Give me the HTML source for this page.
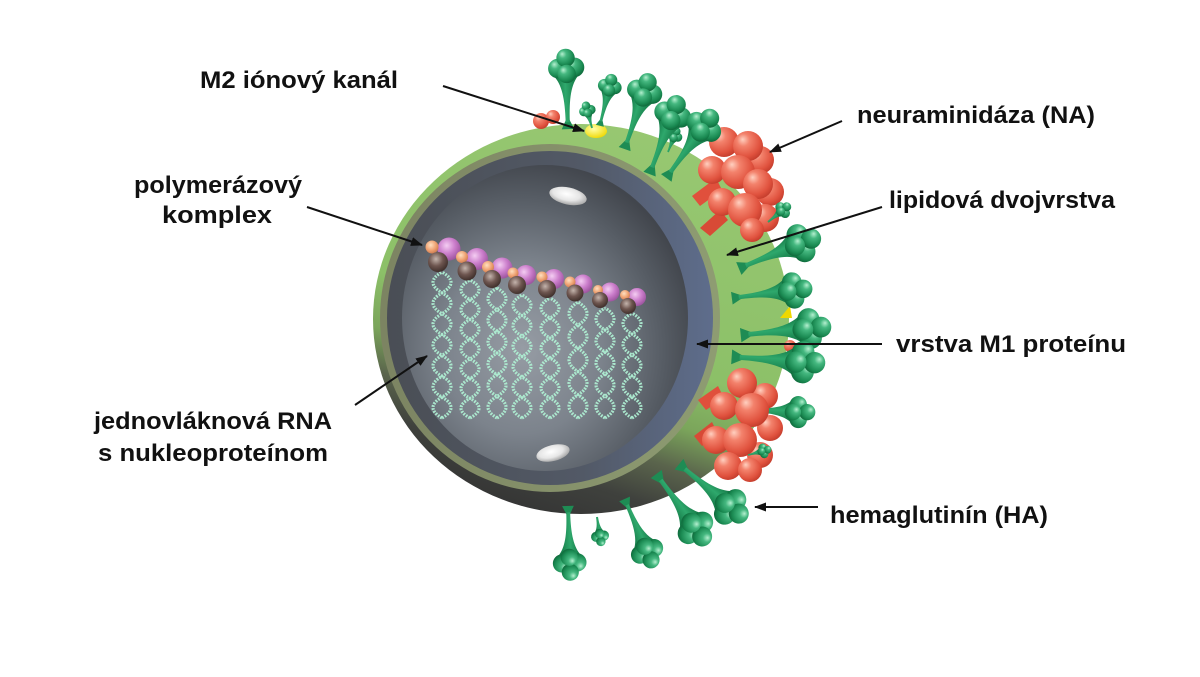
<!DOCTYPE html>
<html>
<head>
<meta charset="utf-8">
<style>
html,body{margin:0;padding:0;background:#fff;}
svg{display:block;}
text{font-family:"Liberation Sans",Arial,sans-serif;font-weight:bold;font-size:24px;fill:#111;}
</style>
</head>
<body>
<svg width="1200" height="677" viewBox="0 0 1200 677" xmlns="http://www.w3.org/2000/svg">
<defs>
  <radialGradient id="gb" cx="0.4" cy="0.35" r="0.7" fx="0.32" fy="0.28">
    <stop offset="0" stop-color="#b5f0d0"/>
    <stop offset="0.3" stop-color="#45b880"/>
    <stop offset="0.75" stop-color="#1a8a52"/>
    <stop offset="1" stop-color="#0d6538"/>
  </radialGradient>
  <radialGradient id="rb" cx="0.4" cy="0.35" r="0.7" fx="0.32" fy="0.28">
    <stop offset="0" stop-color="#ffd0c0"/>
    <stop offset="0.3" stop-color="#f3826c"/>
    <stop offset="0.75" stop-color="#e0523e"/>
    <stop offset="1" stop-color="#c03a2a"/>
  </radialGradient>
  <linearGradient id="st" x1="0" y1="0" x2="1" y2="0">
    <stop offset="0" stop-color="#0f6e3e"/>
    <stop offset="0.45" stop-color="#2ea86c"/>
    <stop offset="1" stop-color="#0f6e3e"/>
  </linearGradient>
  <linearGradient id="shell" x1="0.7" y1="0" x2="0.35" y2="1">
    <stop offset="0" stop-color="#98c872"/>
    <stop offset="0.55" stop-color="#8cc068"/>
    <stop offset="0.68" stop-color="#7ba55b"/>
    <stop offset="0.78" stop-color="#5a644c"/>
    <stop offset="0.88" stop-color="#3f413d"/>
    <stop offset="1" stop-color="#343434"/>
  </linearGradient>
  <linearGradient id="olive" x1="0" y1="0" x2="1" y2="0">
    <stop offset="0" stop-color="#7c8462"/>
    <stop offset="1" stop-color="#8e9c72"/>
  </linearGradient>
  <linearGradient id="m1" x1="0" y1="0" x2="1" y2="0">
    <stop offset="0" stop-color="#4a4e55"/>
    <stop offset="0.6" stop-color="#525966"/>
    <stop offset="1" stop-color="#5e6d8c"/>
  </linearGradient>
  <radialGradient id="core" cx="0.42" cy="0.6" r="0.62">
    <stop offset="0" stop-color="#969ca4"/>
    <stop offset="0.45" stop-color="#7c838c"/>
    <stop offset="0.8" stop-color="#565c64"/>
    <stop offset="1" stop-color="#42464d"/>
  </radialGradient>
  <radialGradient id="hl" cx="0.45" cy="0.4" r="0.6">
    <stop offset="0" stop-color="#ffffff"/>
    <stop offset="0.6" stop-color="#e6e6e6"/>
    <stop offset="1" stop-color="#a8a8a8"/>
  </radialGradient>
  <radialGradient id="pk" cx="0.4" cy="0.35" r="0.7">
    <stop offset="0" stop-color="#f4cdf2"/>
    <stop offset="0.5" stop-color="#cc7fcc"/>
    <stop offset="1" stop-color="#98509a"/>
  </radialGradient>
  <radialGradient id="or" cx="0.4" cy="0.35" r="0.7">
    <stop offset="0" stop-color="#ffe0c0"/>
    <stop offset="0.6" stop-color="#eea070"/>
    <stop offset="1" stop-color="#c8784c"/>
  </radialGradient>
  <radialGradient id="br" cx="0.4" cy="0.35" r="0.7">
    <stop offset="0" stop-color="#c4b4ac"/>
    <stop offset="0.5" stop-color="#6e5650"/>
    <stop offset="1" stop-color="#3a2b27"/>
  </radialGradient>
  <radialGradient id="yl" cx="0.4" cy="0.35" r="0.7">
    <stop offset="0" stop-color="#ffffa8"/>
    <stop offset="1" stop-color="#eed800"/>
  </radialGradient>
  <marker id="ah" viewBox="0 0 12 10" refX="11" refY="5" markerWidth="12" markerHeight="10" markerUnits="userSpaceOnUse" orient="auto">
    <path d="M0,0.5 L12,5 L0,9.5 Z" fill="#111"/>
  </marker>
  <g id="hs">
    <path d="M-5.5,1 L5.5,1 L1.6,-7 L-1.6,-7Z" fill="#1e8c54"/>
    <path d="M-1.8,-5 C-1.8,-26 -4,-38 -11,-46 L11,-46 C4,-38 1.8,-26 1.8,-5Z" fill="url(#st)"/>
    <circle cx="-7" cy="-52" r="8.5" fill="url(#gb)"/>
    <circle cx="7.5" cy="-52.5" r="8.5" fill="url(#gb)"/>
    <circle cx="0" cy="-61" r="8" fill="url(#gb)"/>
    <circle cx="0.5" cy="-47" r="8" fill="url(#gb)"/>
  </g>
  <g id="hss">
    <path d="M-1.5,0 C-1.5,-12 -3,-18 -8,-24 L8,-24 C3,-18 1.5,-12 1.5,0Z" fill="url(#st)"/>
    <circle cx="-6" cy="-29" r="7.5" fill="url(#gb)"/>
    <circle cx="6" cy="-29" r="7.5" fill="url(#gb)"/>
    <circle cx="0" cy="-37" r="7" fill="url(#gb)"/>
    <circle cx="0" cy="-25" r="7" fill="url(#gb)"/>
  </g>
</defs>

<rect width="1200" height="677" fill="#fff"/>

<!-- outer envelope -->
<ellipse cx="581" cy="319" rx="208" ry="195" fill="url(#shell)"/>

<!-- cut face -->
<ellipse cx="550" cy="318" rx="170" ry="174" fill="url(#olive)"/>
<ellipse cx="550" cy="318" rx="163" ry="167" fill="url(#m1)"/>
<ellipse cx="545" cy="318" rx="143" ry="153" fill="url(#core)"/>

<!-- highlights -->
<ellipse cx="568" cy="196" rx="19" ry="8.5" fill="url(#hl)" transform="rotate(12 568 196)"/>
<ellipse cx="553" cy="453" rx="17" ry="8" fill="url(#hl)" transform="rotate(-14 553 453)"/>

<!-- RNA columns -->
<g fill="none" stroke="#aeeed2" stroke-width="3.2" stroke-dasharray="1.8 1.2" opacity="0.95">
  <path d="M442,418 Q460,407.57 442,397.14 T442,376.28 T442,355.42 T442,334.56 T442,313.7 T442,292.84 T442,272"/>
  <path d="M442,418 Q424,407.57 442,397.14 T442,376.28 T442,355.42 T442,334.56 T442,313.7 T442,292.84 T442,272"/>
  <path d="M470,418 Q488,408.14 470,398.29 T470,378.57 T470,358.86 T470,339.14 T470,319.43 T470,299.71 T470,280"/>
  <path d="M470,418 Q452,408.14 470,398.29 T470,378.57 T470,358.86 T470,339.14 T470,319.43 T470,299.71 T470,280"/>
  <path d="M497,418 Q515,407.17 497,396.33 T497,374.67 T497,353 T497,331.33 T497,309.67 T497,288"/>
  <path d="M497,418 Q479,407.17 497,396.33 T497,374.67 T497,353 T497,331.33 T497,309.67 T497,288"/>
  <path d="M522,418 Q540,407.75 522,397.5 T522,377 T522,356.5 T522,336 T522,315.5 T522,295"/>
  <path d="M522,418 Q504,407.75 522,397.5 T522,377 T522,356.5 T522,336 T522,315.5 T522,295"/>
  <path d="M550,418 Q568,408 550,398 T550,378 T550,358 T550,338 T550,318 T550,298"/>
  <path d="M550,418 Q532,408 550,398 T550,378 T550,358 T550,338 T550,318 T550,298"/>
  <path d="M578,418 Q596,406.4 578,394.8 T578,371.6 T578,348.4 T578,325.2 T578,302"/>
  <path d="M578,418 Q560,406.4 578,394.8 T578,371.6 T578,348.4 T578,325.2 T578,302"/>
  <path d="M605,418 Q623,407 605,396 T605,374 T605,352 T605,330 T605,308"/>
  <path d="M605,418 Q587,407 605,396 T605,374 T605,352 T605,330 T605,308"/>
  <path d="M632,418 Q650,407.5 632,397 T632,376 T632,355 T632,334 T632,313"/>
  <path d="M632,418 Q614,407.5 632,397 T632,376 T632,355 T632,334 T632,313"/>
</g>

<!-- polymerase complexes -->
<g>
  <circle cx="449" cy="249" r="11.5" fill="url(#pk)"/><circle cx="432" cy="247" r="6.5" fill="url(#or)"/><circle cx="438" cy="262" r="10" fill="url(#br)"/>
  <circle cx="477" cy="259" r="11" fill="url(#pk)"/><circle cx="462" cy="257" r="6" fill="url(#or)"/><circle cx="467" cy="271" r="9.5" fill="url(#br)"/>
  <circle cx="502" cy="268" r="10.5" fill="url(#pk)"/><circle cx="488" cy="267" r="6" fill="url(#or)"/><circle cx="492" cy="279" r="9" fill="url(#br)"/>
  <circle cx="526" cy="275" r="10" fill="url(#pk)"/><circle cx="513" cy="273" r="5.5" fill="url(#or)"/><circle cx="517" cy="285" r="9" fill="url(#br)"/>
  <circle cx="554" cy="279" r="10" fill="url(#pk)"/><circle cx="542" cy="277" r="5.5" fill="url(#or)"/><circle cx="547" cy="289" r="9" fill="url(#br)"/>
  <circle cx="583" cy="284" r="9.5" fill="url(#pk)"/><circle cx="570" cy="282" r="5.5" fill="url(#or)"/><circle cx="575" cy="293" r="8.5" fill="url(#br)"/>
  <circle cx="610" cy="292" r="9.5" fill="url(#pk)"/><circle cx="598" cy="290" r="5" fill="url(#or)"/><circle cx="600" cy="300" r="8" fill="url(#br)"/>
  <circle cx="637" cy="297" r="9" fill="url(#pk)"/><circle cx="625" cy="295" r="5" fill="url(#or)"/><circle cx="628" cy="306" r="8" fill="url(#br)"/>
</g>

<!-- small red NA at top-left -->
<circle cx="541" cy="121" r="8" fill="url(#rb)"/>
<circle cx="553" cy="117" r="7" fill="url(#rb)"/>

<!-- M2 channel -->
<ellipse cx="596" cy="131" rx="11" ry="7" fill="url(#yl)"/>
<path d="M780,318 L790,306 L792,318Z" fill="#eed800"/>

<!-- top spikes -->
<use href="#hs" transform="translate(568,128) rotate(-2) scale(1.15)"/>
<use href="#hss" transform="translate(592,128) rotate(-15) scale(0.62)"/>
<use href="#hs" transform="translate(600,125) rotate(14) scale(0.76)"/>
<use href="#hs" transform="translate(625,148) rotate(19) scale(1.14)"/>
<use href="#hss" transform="translate(668,152) rotate(22) scale(0.6)"/>
<use href="#hs" transform="translate(650,173) rotate(21) scale(1.2)"/>

<!-- top red NA cluster -->
<g>
  <path d="M716,178 L692,196 L700,206 L722,190Z" fill="#e0503c"/>
  <path d="M720,210 L700,228 L710,236 L728,220Z" fill="#d84a36"/>
  <circle cx="760" cy="160" r="14" fill="url(#rb)"/>
  <circle cx="770" cy="192" r="14" fill="url(#rb)"/>
  <circle cx="765" cy="218" r="14" fill="url(#rb)"/>
  <circle cx="724" cy="142" r="15" fill="url(#rb)"/>
  <circle cx="748" cy="146" r="15" fill="url(#rb)"/>
  <circle cx="712" cy="170" r="14" fill="url(#rb)"/>
  <circle cx="738" cy="172" r="17" fill="url(#rb)"/>
  <circle cx="758" cy="184" r="15" fill="url(#rb)"/>
  <circle cx="722" cy="202" r="14" fill="url(#rb)"/>
  <circle cx="745" cy="210" r="17" fill="url(#rb)"/>
  <circle cx="752" cy="230" r="12" fill="url(#rb)"/>
</g>
<use href="#hs" transform="translate(667,177) rotate(36) scale(1.19)"/>
<use href="#hss" transform="translate(768,222) rotate(51) scale(0.65)"/>

<!-- right spikes -->
<circle cx="790" cy="346" r="6" fill="url(#rb)"/>
<use href="#hs" transform="translate(740,268) rotate(67.6) scale(1.26)"/>
<use href="#hs" transform="translate(733,298) rotate(82.6) scale(1.16)"/>
<use href="#hs" transform="translate(742,335) rotate(84.3) scale(1.3)"/>
<use href="#hs" transform="translate(733,357) rotate(94) scale(1.34)"/>
<use href="#hs" transform="translate(745,410) rotate(92) scale(1.02)"/>

<!-- lower red NA cluster -->
<g>
  <path d="M718,386 L698,400 L706,410 L724,398Z" fill="#e0503c"/>
  <path d="M712,422 L694,436 L702,446 L718,434Z" fill="#d84a36"/>
  <circle cx="765" cy="396" r="13" fill="url(#rb)"/>
  <circle cx="770" cy="428" r="13" fill="url(#rb)"/>
  <circle cx="742" cy="383" r="15" fill="url(#rb)"/>
  <circle cx="724" cy="406" r="14" fill="url(#rb)"/>
  <circle cx="752" cy="410" r="17" fill="url(#rb)"/>
  <circle cx="760" cy="455" r="13" fill="url(#rb)"/>
  <circle cx="716" cy="440" r="14" fill="url(#rb)"/>
  <circle cx="740" cy="440" r="17" fill="url(#rb)"/>
  <circle cx="728" cy="466" r="14" fill="url(#rb)"/>
  <circle cx="750" cy="470" r="12" fill="url(#rb)"/>
</g>
<use href="#hss" transform="translate(748,455) rotate(75) scale(0.55)"/>

<!-- bottom spikes -->
<use href="#hs" transform="translate(568,507) rotate(178) scale(1.07)"/>
<use href="#hss" transform="translate(597,517) rotate(171) scale(0.67)"/>
<use href="#hs" transform="translate(625,500) rotate(156.5) scale(1.07)"/>
<use href="#hs" transform="translate(657,475) rotate(143.7) scale(1.25)"/>
<use href="#hs" transform="translate(680,465) rotate(129.6) scale(1.25)"/>

<!-- arrows -->
<g stroke="#111" stroke-width="2" fill="none" marker-end="url(#ah)">
  <line x1="443" y1="86" x2="584" y2="131"/>
  <line x1="307" y1="207" x2="422" y2="245"/>
  <line x1="842" y1="121" x2="770" y2="152"/>
  <line x1="882" y1="207" x2="727" y2="255"/>
  <line x1="882" y1="344" x2="697" y2="344"/>
  <line x1="818" y1="507" x2="755" y2="507"/>
  <line x1="355" y1="405" x2="427" y2="356"/>
</g>

<!-- labels -->
<text x="200" y="88" textLength="198" lengthAdjust="spacingAndGlyphs">M2 iónový kanál</text>
<text x="134" y="193" textLength="168" lengthAdjust="spacingAndGlyphs">polymerázový</text>
<text x="162" y="223" textLength="110" lengthAdjust="spacingAndGlyphs">komplex</text>
<text x="857" y="123" textLength="238" lengthAdjust="spacingAndGlyphs">neuraminidáza (NA)</text>
<text x="889" y="208" textLength="226" lengthAdjust="spacingAndGlyphs">lipidová dvojvrstva</text>
<text x="896" y="352" textLength="230" lengthAdjust="spacingAndGlyphs">vrstva M1 proteínu</text>
<text x="94" y="429" textLength="238" lengthAdjust="spacingAndGlyphs">jednovláknová RNA</text>
<text x="98" y="461" textLength="230" lengthAdjust="spacingAndGlyphs">s nukleoproteínom</text>
<text x="830" y="523" textLength="218" lengthAdjust="spacingAndGlyphs">hemaglutinín (HA)</text>
</svg>
</body>
</html>
